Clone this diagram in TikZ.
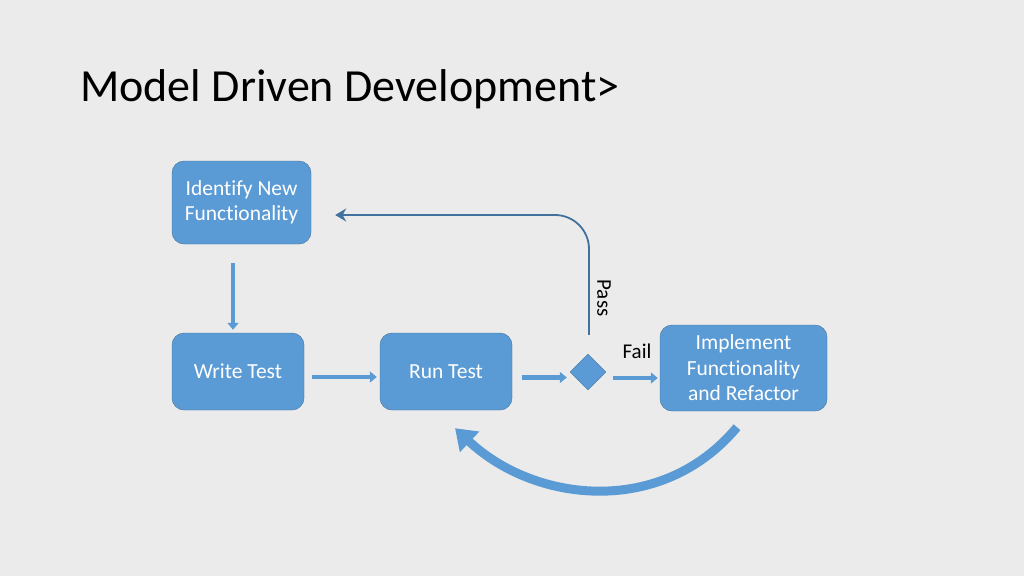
\documentclass[tikz,border=0pt]{standalone}
\usepackage{fontspec}
\setmainfont{Carlito}[Ligatures=NoCommon]
\usetikzlibrary{arrows.meta}
\usetikzlibrary{shapes.geometric}

\definecolor{boxblue}{HTML}{5B9BD5}
\definecolor{boxedge}{HTML}{41719C}
\definecolor{slidebg}{HTML}{EBEBEB}

\begin{document}
\begin{tikzpicture}[x=1pt,y=-1pt,
  stepbox/.style={draw=boxedge,fill=boxblue,rounded corners=12pt,text=white,
    font=\fontsize{21.5}{25.5}\selectfont,align=center,inner sep=0pt},
  decision/.style={diamond,draw=boxedge,fill=boxblue,inner sep=0pt,
    minimum width=36pt,minimum height=36pt},
  flow/.style={draw=boxblue,line width=4.5pt,-{Triangle[length=7pt,width=11pt]}},
  passline/.style={draw=boxedge,line width=1.8pt,rounded corners=34pt,
    -{Stealth[length=11pt,width=13pt]}},
  backflow/.style={draw=boxblue,line width=9pt,-{Triangle[length=20pt,width=27pt]}},
  lbl/.style={font=\fontsize{21}{25}\selectfont,text=black,inner sep=0pt}]
\useasboundingbox[fill=slidebg] (0,0) rectangle (1024,576);

% title
\node (title) [anchor=base west,inner sep=0pt,font=\fontsize{46}{55}\selectfont] at (80,101) {Model Driven Development>};

% steps
\node (idf) [stepbox,minimum width=139pt,minimum height=83pt] at (241.5,202.5) {Identify New\\Functionality};
\node (wrt) [stepbox,minimum width=132pt,minimum height=77pt] at (238,371.5) {Write Test};
\node (run) [stepbox,minimum width=132pt,minimum height=77pt] at (446,371.5) {Run Test};
\node (dec) [decision] at (588,372) {};
\node (impl) [stepbox,minimum width=167pt,minimum height=86pt] at (743.5,368) {Implement\\Functionality\\and Refactor};

% flow arrows
\draw[flow,shorten <=19pt,shorten >=3pt] ([xshift=-8.5pt]idf.south) -- ([xshift=-5pt]wrt.north);
\draw[flow,shorten <=8pt,shorten >=3pt] ([yshift=-5.5pt]wrt.east) -- ([yshift=-5.5pt]run.west);
\draw[flow,shorten <=10pt,shorten >=3pt] ([yshift=-6pt]run.east) -- ([yshift=-6pt]run.east -| dec.west);
\draw[flow,shorten <=7pt,shorten >=2pt] ([yshift=-6pt]dec.east) -- ([yshift=-6pt]dec.east -| impl.west);

% pass / fail
\draw[passline,shorten >=24pt] ([xshift=1pt,yshift=19pt]dec.north) |- ([yshift=-12.5pt]idf.east);
\node (pass) [lbl,rotate=-90] at (604,298) {Pass};
\node (fail) [lbl] at (637,351) {Fail};

% refactor loop
\draw[backflow] ([xshift=-6.5pt,yshift=-16pt]impl.south) .. controls +(-75,90) and +(80,75) .. ([xshift=9pt,yshift=-18pt]run.south);
\end{tikzpicture}
\end{document}
